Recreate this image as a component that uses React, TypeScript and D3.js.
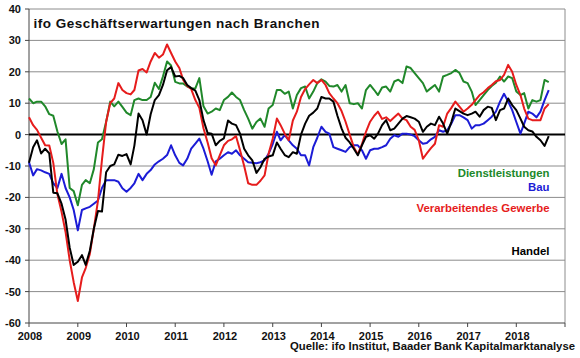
import React from 'react';
import * as d3 from 'd3';

// monthly values, Jan 2008 .. Sep 2018
const dienstleistungen = [
  11.5, 10, 10.5, 10.5, 9, 6.5, 6, 1, -3, -1.5,
  -17, -18, -22.5, -16, -14.5, -15.5, -11, -2.5, -1.5, 4,
  10.5, 9, 10.5, 8.8, 7, 6.2, 11, 11.5, 11, 11,
  12, 16.5, 14.5, 18.5, 23.3, 22, 16.8, 16.3, 16.3, 15.3,
  14.8, 14.7, 18, 9, 6.7, 7.3, 8.3, 7.8, 11, 12,
  13.4, 12, 11, 7.8, 5.1, 1.9, 4, 5.1, 2.5, 8.3,
  9.4, 14.2, 14.2, 13, 13.7, 8.3, 12.6, 14.8, 15.3, 11.5,
  13.7, 16.4, 17.6, 16.9, 15.5, 15.3, 15.8, 13.7, 15.8, 10,
  9.7, 10, 8.3, 14.2, 15.8, 14.2, 12.6, 15, 15.3, 13.7,
  16.9, 17.5, 16.4, 21.7, 21.2, 19.6, 18, 16.4, 13.7, 14.8,
  15.8, 13.7, 18.5, 19, 19.6, 20.6, 19.6, 16.9, 16.4, 13.7,
  9.4, 11, 12.6, 14.2, 15.5, 16.5, 18.5, 16.9, 18.5, 18,
  13.7, 12.6, 13.2, 8.3, 11, 10.5, 11, 17.4, 16.7,
];

const bau = [
  -8.8, -13, -11, -11.4, -12, -12.5, -15.5, -17, -12.5, -17,
  -20, -24, -30.5, -24, -23.5, -23, -22, -21, -17, -14.5,
  -14.5, -14.5, -15, -17.1, -18.2, -17, -15.5, -12.5, -14.5, -12.5,
  -11.3, -9.5, -8.5, -7.7, -6.5, -3.4, -6.6, -9, -9.8, -7.7,
  -4.5, -2.9, -1.3, -4.5, -8.5, -12.8, -8.5, -7.7, -6.6, -5.6,
  -6.1, -5, -6.6, -7.7, -8.8, -9, -9.1, -8.8, -8.2, -6.1,
  -3, 0.9, -1.8, -0.2, -1.8, -3.4, -4.5, -6.6, -6.6, -9.8,
  -4, -1, 2.5, 0.9, 0.3, -4, -4.5, -5, -5.5, -4,
  -3.4, -3.4, -5, -7.7, -5, -4.5, -4.5, -4, -3.4, -1.3,
  -0.2, -0.7, 0.3, 0.3, 0, -0.5, -1.8, -2.9, -2.7, -1.5,
  -0.7, 1.4, 0.9, 1.4, 3.5, 6.2, 6.2, 5.5, 4.6, 1.9,
  3, 3, 3.5, 4.6, 5.7, 7.3, 10.5, 13, 10.5, 7.8,
  4, 0.3, 3.5, 7.3, 6.7, 5.5, 7.3, 11, 14.2,
];

const verarbeitendesGewerbe = [
  5.5, 3, 1.5, -1, -3.4, -3.5, -9, -19, -24.6, -31,
  -40, -47, -53, -45.5, -42.5, -38, -30, -21, -8, 4,
  10, 11.5, 16.4, 14.2, 13.2, 12.8, 14.2, 20.4, 20.9, 19.8,
  23.3, 26, 24.5, 25.5, 28.7, 26, 23.3, 21.2, 17.5, 15.5,
  14.5, 11, 8.5, 2, -2.5, -7.5, -9.8, -6.6, -3.4, -2,
  -1.5, -0.5, -5, -10, -15.5, -16, -16, -14.7, -13, -6.1,
  -1.3, 5.1, 3, 0.3, -1.8, 4.5, 7.3, 12, 14.5, 16,
  17.4, 16.4, 17.4, 15.8, 13.2, 11.5, 10, 7.5, 4.1, 0,
  -4, -6.3, -3, 0.9, 4.1, 6, 7.3, 5, 5.5, 4.3,
  5.5, 6.7, 5.1, 4.6, 2.5, 1.5, -1.8, -7.7, -6, -4.3,
  -2.9, 3, 2.5, 6.7, 8.5, 10.5, 8.9, 7.3, 8.3, 9.5,
  11, 12.6, 13.5, 14.8, 15.8, 17, 17.4, 19, 22.2, 20,
  15.8, 12.6, 8.3, 5.1, 4.6, 4.6, 4.6, 8.3, 9.7,
];

const handel = [
  -9, -4, -1.8, -6, -4.5, -6, -18.5, -18.7, -22, -27,
  -36, -41.5, -40.5, -38.4, -41.5, -37, -30, -24.3, -24.5, -12,
  -10, -9.5, -6.4, -6.8, -6.2, -9.5, -3.5, 6.7, 4.6, 0,
  6.5, 11, 12.6, 15.8, 20.5, 21.5, 18.5, 18.7, 18, 15.8,
  14.8, 14, 11, 4.6, 0.5, 0.3, -3.4, -2, -1.2, 4.5,
  3.5, 3, 0.3, -4.5, -6.6, -8.2, -12.2, -10.4, -7.7, -7,
  -6.6, -2.5, -4.5, -6.5, -7.2, -5.6, -6.1, 0, 3.5, 6,
  7, 8.3, 12, 11.5, 11.5, 10.5, 6, 2, -1, -2.5,
  -4.5, -6.6, -3.4, -0.7, -0.2, -1.3, 0.3, 3, 4.6, 1.4,
  1.9, 3.5, 5.1, 5.9, 5.5, 5.1, 4.1, 0.9, 2.5, 3.5,
  3, 5.7, 3.5, 0.3, 4, 8.3, 7.5, 6.7, 6.2, 6.7,
  7.3, 5.7, 7.8, 8.9, 8.5, 4.6, 7.8, 8.3, 11.5, 9.4,
  7.8, 5.1, 2.5, 1.4, 1, -0.7, -1.8, -3.6, -0.5,
];

const years = [2008, 2009, 2010, 2011, 2012, 2013, 2014, 2015, 2016, 2017, 2018];
const yTicks = [-60, -50, -40, -30, -20, -10, 0, 10, 20, 30, 40];

const series = [
  { name: 'Dienstleistungen', values: dienstleistungen, color: '#20882a', labelY: 176.5 },
  { name: 'Bau', values: bau, color: '#1c1cd6', labelY: 190.5 },
  { name: 'Verarbeitendes Gewerbe', values: verarbeitendesGewerbe, color: '#e61c1c', labelY: 212 },
  { name: 'Handel', values: handel, color: '#000000', labelY: 255 },
];

const font = '"Liberation Sans", Arial, sans-serif';

export default function App() {
  const width = 580,
    height = 358;
  const left = 29,
    right = 565,
    top = 9,
    bottom = 323;

  const start = new Date(2008, 0, 1);
  const x = d3.scaleTime().domain([start, new Date(2019, 0, 1)]).range([left, right]);
  const y = d3.scaleLinear().domain([-60, 40]).range([bottom, top]);

  const line = d3
    .line<number>()
    .x((d, i) => x(d3.timeMonth.offset(start, i)))
    .y(d => y(d));

  const yearTicks = years.concat([2019]);

  return (
    <svg
      width={width}
      height={height}
      style={{ position: 'absolute', left: 0, top: 0, background: '#fff' }}
      fontFamily={font}
      fontWeight="bold"
    >
      {/* grid */}
      {yTicks.filter(v => v !== 0 && v !== -60).map(v => (
        <line key={v} x1={left} x2={right} y1={y(v)} y2={y(v)} stroke="#8c8c8c" strokeWidth={1} />
      ))}
      <line x1={right} x2={right} y1={y(40)} y2={y(-60)} stroke="#8c8c8c" />

      {/* axes */}
      <line x1={left} x2={left} y1={y(40)} y2={y(-60)} stroke="#444" />
      <line x1={left} x2={right} y1={y(-60)} y2={y(-60)} stroke="#444" />
      {yTicks.map(v => (
        <g key={'yt' + v}>
          <line x1={left - 4} x2={left} y1={y(v)} y2={y(v)} stroke="#444" />
          <text x={21} y={y(v)} dy="0.36em" textAnchor="end" fontSize={11} fill="#111">
            {v}
          </text>
        </g>
      ))}
      {yearTicks.map(yr => (
        <line
          key={'xt' + yr}
          x1={x(new Date(yr, 0, 1))}
          x2={x(new Date(yr, 0, 1))}
          y1={y(-60)}
          y2={y(-60) + 4}
          stroke="#444"
        />
      ))}
      {years.map(yr => (
        <text key={'xl' + yr} x={x(new Date(yr, 0, 1)) + 1} y={340} textAnchor="middle" fontSize={11} fill="#111">
          {yr}
        </text>
      ))}

      {/* zero line */}
      <line x1={left} x2={right} y1={y(0)} y2={y(0)} stroke="#000" strokeWidth={2} />

      {/* series */}
      {series.map(s => (
        <path key={s.name} d={line(s.values) || ''} fill="none" stroke={s.color} strokeWidth={2} strokeLinejoin="round" />
      ))}

      {/* labels */}
      {series.map(s => (
        <text key={'l' + s.name} x={549.5} y={s.labelY} textAnchor="end" fontSize={11.4} fill={s.color}>
          {s.name}
        </text>
      ))}

      <text x={33.5} y={27.5} fontSize={13.5} fill="#111" textLength={286} lengthAdjust="spacing">
        ifo Geschäftserwartungen nach Branchen
      </text>
      <text x={290} y={349.5} fontSize={11.4} fill="#111" textLength={285} lengthAdjust="spacingAndGlyphs">
        Quelle: ifo Institut, Baader Bank Kapitalmarktanalyse
      </text>
    </svg>
  );
}
